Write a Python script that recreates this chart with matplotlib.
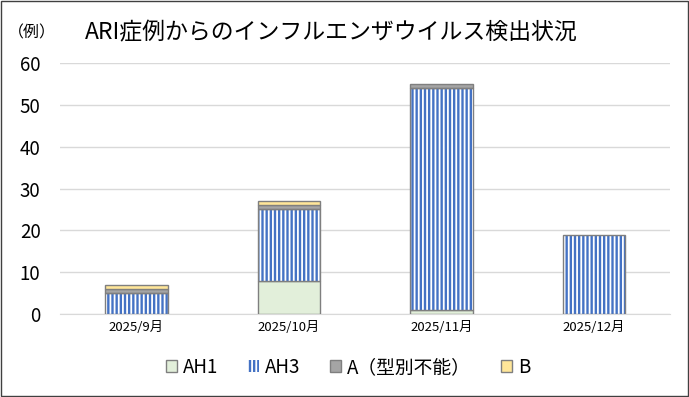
import matplotlib.pyplot as plt
import matplotlib.patches as mpatches
import numpy as np

plt.rcParams['font.family'] = ['Noto Sans CJK JP', 'DejaVu Sans']
plt.rcParams['hatch.linewidth'] = 1.3

months = ['2025/9月', '2025/10月', '2025/11月', '2025/12月']
ah1 = [0, 8, 1, 0]
ah3 = [5, 17, 53, 19]
a_untyped = [1, 1, 1, 0]
b = [1, 1, 0, 0]

c_ah1 = '#E2EFDA'
c_ah3 = '#4472C4'
c_a = '#A5A5A5'
c_b = '#FFE699'
edge = '#7F7F7F'

fig = plt.figure(figsize=(6.89, 3.97), dpi=100)
ax = fig.add_axes([0.087, 0.209, 0.886, 0.632])

x = np.arange(len(months))
w = 0.41
ah1 = np.array(ah1)
ah3 = np.array(ah3)
a_untyped = np.array(a_untyped)
b = np.array(b)

def seg(vals, bottom, color, hatch=None):
    for i in range(len(vals)):
        if vals[i] <= 0:
            continue
        if hatch:
            ax.bar(x[i], vals[i], w, bottom=bottom[i], color=color,
                   edgecolor='white', hatch=hatch, linewidth=0, zorder=3)
            ax.bar(x[i], vals[i], w, bottom=bottom[i], fill=False,
                   edgecolor=edge, linewidth=1, zorder=4)
        else:
            ax.bar(x[i], vals[i], w, bottom=bottom[i], color=color,
                   edgecolor=edge, linewidth=1, zorder=3)

seg(ah1, np.zeros(4), c_ah1)
seg(ah3, ah1, c_ah3, hatch='||||')
seg(a_untyped, ah1 + ah3, c_a)
seg(b, ah1 + ah3 + a_untyped, c_b)

ax.set_xlim(-0.5, 3.5)
ax.set_ylim(0, 60)
ax.set_yticks(range(0, 61, 10))
ax.set_xticks(x)
ax.set_xticklabels(months, fontsize=9.5)
ax.tick_params(axis='y', labelsize=13.5, length=0, pad=14)
ax.tick_params(axis='x', length=0, pad=5)
ax.grid(axis='y', color='#D9D9D9', linewidth=1, zorder=0)
for s in ['top', 'right', 'left']:
    ax.spines[s].set_visible(False)
ax.spines['bottom'].set_color('#D9D9D9')

fig.text(0.012, 0.918, '（例）', fontsize=11.5, va='center')
fig.text(0.123, 0.918, 'ARI症例からのインフルエンザウイルス検出状況', fontsize=16.5, va='center')

handles = [
    mpatches.Patch(facecolor=c_ah1, edgecolor=edge, label='AH1'),
    mpatches.Patch(facecolor=c_ah3, edgecolor='white', hatch='||||', linewidth=0, label='AH3'),
    mpatches.Patch(facecolor=c_a, edgecolor=edge, label='A（型別不能）'),
    mpatches.Patch(facecolor=c_b, edgecolor=edge, label='B'),
]
fig.legend(handles=handles, loc='center', bbox_to_anchor=(0.505, 0.075), ncol=4,
           frameon=False, fontsize=13.5, handlelength=0.6, handleheight=0.6,
           handletextpad=0.3, columnspacing=1.6)

fig.patches.append(mpatches.Rectangle((0.002, 0.003), 0.996, 0.994, transform=fig.transFigure,
                                      fill=False, edgecolor='#404040', linewidth=1))

fig.savefig('out.png', dpi=100)
